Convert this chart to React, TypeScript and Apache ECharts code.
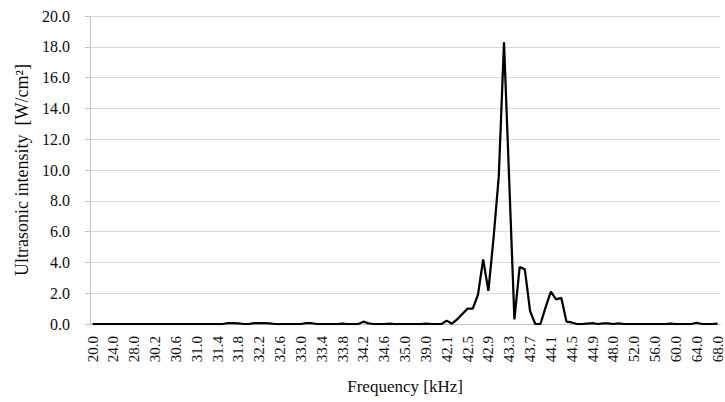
import React, { useEffect, useRef } from "react";
import * as echarts from "echarts";

const categories: string[] = [
  "20.0","21.0","22.0","23.0","24.0","25.0","26.0","27.0","28.0","29.0","30.0",
  "30.1","30.2","30.3","30.4","30.5","30.6","30.7","30.8","30.9","31.0",
  "31.1","31.2","31.3","31.4","31.5","31.6","31.7","31.8","31.9","32.0",
  "32.1","32.2","32.3","32.4","32.5","32.6","32.7","32.8","32.9","33.0",
  "33.1","33.2","33.3","33.4","33.5","33.6","33.7","33.8","33.9","34.0",
  "34.1","34.2","34.3","34.4","34.5","34.6","34.7","34.8","34.9","35.0",
  "36.0","37.0","38.0","39.0","40.0","41.0","42.0",
  "42.1","42.2","42.3","42.4","42.5","42.6","42.7","42.8","42.9","43.0",
  "43.1","43.2","43.3","43.4","43.5","43.6","43.7","43.8","43.9","44.0",
  "44.1","44.2","44.3","44.4","44.5","44.6","44.7","44.8","44.9","45.0",
  "46.0","47.0","48.0","49.0","50.0","51.0","52.0","53.0","54.0","55.0",
  "56.0","57.0","58.0","59.0","60.0","61.0","62.0","63.0","64.0","65.0",
  "66.0","67.0","68.0"
];

const intensity: number[] = [
  0, 0, 0, 0, 0, 0, 0, 0, 0, 0, 0,
  0, 0, 0, 0, 0, 0, 0, 0, 0, 0,
  0, 0, 0, 0, 0, 0.05, 0.05, 0.04, 0, 0,
  0.05, 0.06, 0.05, 0.04, 0, 0, 0, 0, 0, 0,
  0.05, 0.05, 0, 0, 0, 0, 0, 0.03, 0, 0,
  0, 0.15, 0.04, 0, 0, 0, 0.03, 0, 0, 0,
  0, 0, 0, 0.02, 0, 0, 0,
  0.22, 0.02, 0.3, 0.65, 1.0, 1.0, 1.9, 4.2, 2.15, 5.6,
  9.6, 18.3, 9.3, 0.3, 3.7, 3.55, 0.85, 0.0, 0.0, 1.1,
  2.1, 1.6, 1.7, 0.15, 0.1, 0, 0, 0.03, 0.05, 0,
  0.04, 0.04, 0, 0.04, 0, 0, 0, 0, 0, 0,
  0, 0, 0, 0.03, 0, 0, 0, 0, 0.08, 0,
  0, 0, 0.02
];

const yTicks = { min: 0, max: 20, interval: 2 };

const xTitle = "Frequency [kHz]";
const yTitle = "Ultrasonic intensity  [W/cm²]";

const FONT = "'Liberation Serif', 'Times New Roman', serif";
const TEXT = "#0d0d0d";

export default function App() {
  const ref = useRef<HTMLDivElement>(null);
  useEffect(() => {
    if (!ref.current) return;
    const chart = echarts.init(ref.current, undefined, { renderer: "svg" });
    chart.setOption({
      animation: false,
      backgroundColor: "#ffffff",
      textStyle: { fontFamily: FONT },
      grid: { left: 90, right: 1, top: 16, bottom: 78, containLabel: false },
      xAxis: {
        type: "category",
        data: categories,
        boundaryGap: true,
        name: xTitle,
        nameLocation: "middle",
        nameGap: 54,
        nameTextStyle: { fontFamily: FONT, fontSize: 17, color: TEXT },
        axisLine: { show: true, lineStyle: { color: "#bfbfbf", width: 1 } },
        axisTick: { show: false },
        axisLabel: {
          interval: 3,
          rotate: 90,
          margin: 12,
          fontFamily: FONT,
          fontSize: 15,
          color: TEXT,
        },
        splitLine: { show: false },
      },
      yAxis: {
        type: "value",
        min: yTicks.min,
        max: yTicks.max,
        interval: yTicks.interval,
        name: yTitle,
        nameLocation: "middle",
        nameGap: 59,
        nameTextStyle: { fontFamily: FONT, fontSize: 18, color: TEXT },
        axisLine: { show: true, lineStyle: { color: "#bfbfbf", width: 1 } },
        axisTick: { show: true, inside: false, length: 5, lineStyle: { color: "#bfbfbf" } },
        axisLabel: {
          formatter: (v: number) => v.toFixed(1),
          margin: 20,
          fontFamily: FONT,
          fontSize: 16,
          color: TEXT,
        },
        splitLine: { show: true, lineStyle: { color: "#d9d9d9", width: 1 } },
      },
      series: [
        {
          type: "line",
          data: intensity,
          showSymbol: false,
          symbol: "none",
          lineStyle: { color: "#000000", width: 2.25 },
          itemStyle: { color: "#000000" },
        },
      ],
    });
    return () => chart.dispose();
  }, []);
  return (
    <div
      ref={ref}
      style={{ position: "fixed", left: 0, top: 0, width: 725, height: 402, background: "#fff" }}
    />
  );
}
